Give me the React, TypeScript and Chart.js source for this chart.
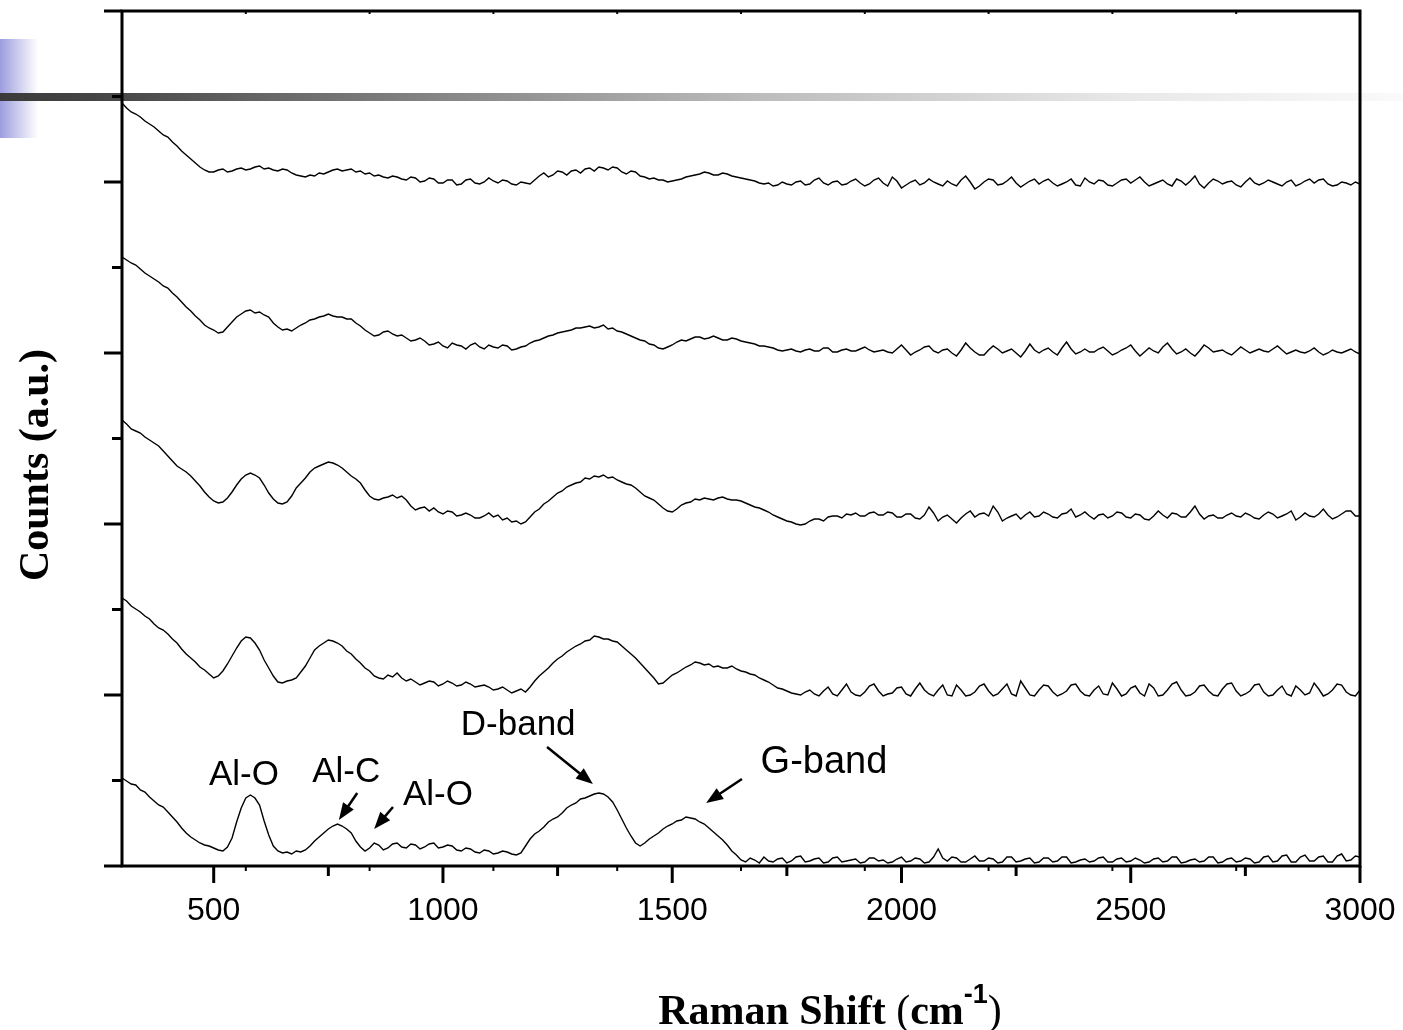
import { useEffect, useRef } from 'react';
import { Chart, registerables } from 'chart.js';

Chart.register(...registerables);

const W = 1403;
const H = 1030;

// Raman shift sampling (cm-1)
const ramanShift = [
  300, 310, 320, 330, 340, 350, 360, 370, 380, 390, 400, 410, 420, 430, 440, 450, 460, 470, 480, 490,
  500, 510, 520, 530, 540, 550, 560, 570, 580, 590, 600, 610, 620, 630, 640, 650, 660, 670, 680, 690,
  700, 710, 720, 730, 740, 750, 760, 770, 780, 790, 800, 810, 820, 830, 840, 850, 860, 870, 880, 890,
  900, 910, 920, 930, 940, 950, 960, 970, 980, 990, 1000, 1010, 1020, 1030, 1040, 1050, 1060, 1070, 1080, 1090,
  1100, 1110, 1120, 1130, 1140, 1150, 1160, 1170, 1180, 1190, 1200, 1210, 1220, 1230, 1240, 1250, 1260, 1270, 1280, 1290,
  1300, 1310, 1320, 1330, 1340, 1350, 1360, 1370, 1380, 1390, 1400, 1410, 1420, 1430, 1440, 1450, 1460, 1470, 1480, 1490,
  1500, 1510, 1520, 1530, 1540, 1550, 1560, 1570, 1580, 1590, 1600, 1610, 1620, 1630, 1640, 1650, 1660, 1670, 1680, 1690,
  1700, 1710, 1720, 1730, 1740, 1750, 1760, 1770, 1780, 1790, 1800, 1810, 1820, 1830, 1840, 1850, 1860, 1870, 1880, 1890,
  1900, 1910, 1920, 1930, 1940, 1950, 1960, 1970, 1980, 1990, 2000, 2010, 2020, 2030, 2040, 2050, 2060, 2070, 2080, 2090,
  2100, 2110, 2120, 2130, 2140, 2150, 2160, 2170, 2180, 2190, 2200, 2210, 2220, 2230, 2240, 2250, 2260, 2270, 2280, 2290,
  2300, 2310, 2320, 2330, 2340, 2350, 2360, 2370, 2380, 2390, 2400, 2410, 2420, 2430, 2440, 2450, 2460, 2470, 2480, 2490,
  2500, 2510, 2520, 2530, 2540, 2550, 2560, 2570, 2580, 2590, 2600, 2610, 2620, 2630, 2640, 2650, 2660, 2670, 2680, 2690,
  2700, 2710, 2720, 2730, 2740, 2750, 2760, 2770, 2780, 2790, 2800, 2810, 2820, 2830, 2840, 2850, 2860, 2870, 2880, 2890,
  2900, 2910, 2920, 2930, 2940, 2950, 2960, 2970, 2980, 2990, 3000,
];

// Counts (a.u., stacked with offsets) – bottom trace
const trace1 = [
  88, 85, 82, 81, 76, 74, 69, 65, 61, 59, 54, 49, 44, 38, 33, 29, 26, 23, 21, 20,
  18, 16, 15, 19, 28, 44, 58, 68, 71, 68, 61, 45, 31, 20, 15, 13, 14, 12, 15, 14,
  16, 20, 25, 29, 33, 37, 40, 42, 40, 37, 33, 25, 19, 15, 18, 23, 21, 16, 18, 22,
  23, 19, 18, 22, 21, 17, 19, 22, 23, 18, 19, 21, 20, 16, 15, 18, 17, 14, 13, 16,
  15, 12, 13, 15, 14, 12, 11, 13, 20, 27, 32, 35, 39, 44, 47, 49, 53, 58, 61, 63,
  67, 68, 70, 72, 73, 72, 69, 64, 56, 47, 38, 30, 23, 20, 23, 27, 30, 33, 37, 40,
  42, 45, 46, 49, 48, 47, 44, 42, 38, 34, 30, 26, 21, 15, 11, 6, 4, 8, 6, 3,
  9, 5, 4, 7, 8, 3, 5, 9, 10, 4, 5, 7, 8, 3, 4, 8, 9, 4, 5, 6,
  7, 3, 4, 8, 8, 5, 6, 3, 4, 7, 9, 4, 5, 8, 7, 3, 4, 9, 17, 8,
  5, 9, 8, 4, 4, 7, 10, 5, 5, 8, 7, 3, 4, 9, 9, 4, 5, 7, 8, 3,
  4, 8, 8, 4, 5, 9, 9, 3, 4, 6, 7, 4, 5, 8, 9, 4, 4, 7, 8, 4,
  5, 8, 6, 3, 4, 7, 8, 4, 5, 9, 9, 3, 4, 6, 7, 4, 5, 9, 9, 3,
  4, 7, 8, 4, 5, 8, 7, 3, 4, 9, 10, 4, 5, 10, 11, 4, 4, 9, 11, 5,
  5, 9, 10, 4, 4, 10, 12, 5, 6, 10, 9,
];

const trace2 = [
  268, 265, 260, 257, 254, 250, 247, 242, 238, 236, 232, 227, 223, 217, 212, 208, 204, 199, 196, 192,
  188, 190, 195, 202, 210, 218, 225, 229, 228, 223, 216, 206, 198, 190, 184, 183, 185, 186, 188, 194,
  200, 208, 216, 220, 223, 226, 225, 223, 220, 215, 212, 207, 203, 198, 195, 190, 188, 187, 191, 189,
  193, 188, 185, 187, 184, 181, 183, 185, 184, 180, 182, 185, 183, 180, 181, 184, 182, 179, 180, 181,
  179, 176, 177, 179, 176, 173, 175, 177, 174, 179, 185, 190, 194, 198, 203, 207, 210, 214, 217, 220,
  222, 225, 226, 230, 229, 227, 227, 225, 224, 220, 216, 212, 208, 203, 198, 193, 188, 182, 183, 187,
  191, 193, 196, 199, 201, 204, 203, 201, 202, 199, 200, 198, 198, 200, 197, 195, 194, 192, 191, 188,
  186, 184, 181, 178, 177, 175, 173, 172, 171, 174, 176, 172, 170, 175, 179, 172, 170, 176, 182, 174,
  171, 170, 174, 180, 182, 175, 170, 172, 173, 178, 179, 172, 170, 177, 183, 176, 172, 170, 176, 181,
  171, 170, 181, 176, 170, 171, 174, 180, 182, 175, 170, 172, 177, 182, 172, 170, 185, 178, 171, 170,
  176, 181, 180, 174, 170, 172, 175, 181, 182, 175, 171, 170, 176, 180, 172, 171, 183, 177, 170, 172,
  178, 180, 173, 170, 182, 178, 170, 171, 176, 182, 184, 176, 170, 171, 174, 180, 181, 175, 171, 170,
  177, 182, 183, 175, 170, 172, 175, 181, 182, 174, 170, 171, 176, 180, 172, 170, 180, 176, 171, 173,
  183, 177, 170, 172, 176, 182, 181, 174, 171, 170, 176,
];

const trace3 = [
  446, 442, 437, 435, 433, 429, 426, 423, 420, 415, 410, 405, 400, 397, 394, 390, 385, 380, 374, 369,
  365, 363, 364, 368, 374, 381, 387, 391, 393, 391, 388, 381, 373, 367, 363, 362, 364, 370, 378, 383,
  388, 394, 398, 400, 402, 404, 403, 401, 398, 394, 390, 387, 383, 376, 370, 367, 366, 368, 369, 371,
  368, 370, 366, 360, 356, 358, 359, 355, 358, 354, 352, 355, 354, 350, 351, 353, 351, 348, 348, 350,
  353, 349, 351, 346, 348, 344, 345, 342, 344, 349, 354, 357, 362, 365, 369, 373, 375, 379, 381, 383,
  384, 388, 387, 390, 389, 391, 388, 389, 386, 384, 382, 381, 378, 374, 370, 368, 366, 362, 358, 355,
  354, 357, 361, 363, 364, 367, 366, 368, 367, 366, 368, 369, 367, 366, 366, 365, 363, 361, 359, 358,
  356, 354, 351, 349, 347, 345, 344, 342, 341, 342, 345, 347, 347, 345, 349, 350, 350, 348, 352, 351,
  353, 350, 350, 353, 354, 351, 351, 354, 353, 349, 349, 352, 352, 348, 347, 351, 359, 353, 345, 349,
  351, 347, 343, 348, 352, 355, 349, 352, 353, 350, 360, 354, 345, 348, 350, 352, 347, 351, 354, 349,
  350, 354, 352, 349, 348, 352, 353, 357, 349, 351, 354, 350, 347, 351, 352, 348, 350, 354, 353, 349,
  348, 352, 351, 347, 346, 350, 355, 351, 348, 353, 352, 349, 349, 354, 360, 352, 347, 350, 351, 348,
  348, 351, 353, 350, 349, 353, 351, 348, 347, 351, 354, 352, 348, 350, 352, 355, 346, 349, 353, 350,
  349, 352, 357, 351, 347, 349, 352, 355, 355, 350, 350,
];

const trace4 = [
  609, 606, 603, 601, 597, 593, 590, 587, 584, 580, 578, 573, 569, 564, 559, 555, 550, 546, 541, 538,
  536, 533, 534, 539, 544, 549, 552, 555, 556, 553, 554, 551, 549, 543, 539, 536, 537, 535, 538, 541,
  543, 546, 547, 549, 550, 552, 550, 549, 549, 547, 547, 543, 540, 536, 533, 530, 531, 534, 535, 532,
  530, 531, 528, 525, 526, 528, 525, 521, 522, 524, 520, 518, 523, 521, 520, 517, 521, 523, 519, 517,
  521, 519, 518, 521, 520, 516, 517, 519, 520, 523, 525, 526, 528, 530, 531, 533, 534, 535, 536, 538,
  538, 539, 540, 538, 539, 541, 537, 538, 535, 534, 532, 530, 528, 526, 525, 522, 521, 518, 517, 519,
  521, 524, 526, 525, 527, 529, 529, 527, 528, 530, 528, 526, 526, 528, 527, 525, 524, 523, 522, 520,
  520, 519, 518, 516, 515, 516, 517, 515, 514, 516, 517, 515, 515, 518, 518, 514, 514, 516, 517, 515,
  515, 517, 519, 516, 514, 515, 516, 514, 513, 517, 521, 516, 511, 514, 516, 519, 520, 515, 513, 516,
  517, 513, 510, 516, 523, 518, 514, 511, 511, 516, 520, 517, 513, 515, 517, 513, 509, 515, 522, 516,
  513, 516, 518, 514, 511, 518, 524, 517, 512, 514, 517, 514, 514, 517, 519, 515, 511, 513, 516, 518,
  521, 515, 510, 514, 518, 515, 513, 519, 523, 517, 512, 514, 517, 513, 510, 515, 521, 518, 514, 515,
  516, 513, 511, 515, 519, 516, 513, 515, 517, 515, 514, 517, 520, 516, 512, 514, 516, 514, 513, 515,
  518, 514, 511, 513, 516, 514, 513, 515, 517, 514, 512,
];

const trace5 = [
  763, 758, 754, 752, 749, 745, 742, 739, 735, 731, 729, 724, 720, 715, 711, 707, 703, 699, 696, 694,
  694, 696, 697, 694, 695, 697, 698, 696, 697, 699, 700, 697, 698, 696, 695, 697, 696, 693, 691, 690,
  689, 691, 690, 693, 692, 694, 696, 697, 695, 696, 697, 694, 695, 692, 693, 690, 691, 689, 688, 690,
  689, 687, 686, 689, 688, 684, 685, 688, 687, 683, 683, 686, 686, 681, 682, 686, 687, 683, 682, 684,
  688, 685, 683, 686, 685, 682, 681, 684, 683, 682, 686, 690, 693, 689, 691, 695, 694, 691, 695, 696,
  693, 697, 698, 695, 699, 698, 696, 699, 698, 694, 692, 695, 694, 690, 689, 687, 688, 686, 686, 684,
  685, 686, 687, 689, 690, 691, 692, 694, 693, 691, 691, 693, 692, 690, 689, 688, 687, 686, 685, 683,
  682, 683, 680, 681, 684, 682, 681, 684, 685, 681, 682, 686, 688, 683, 681, 684, 685, 681, 682, 685,
  687, 683, 680, 682, 686, 688, 683, 680, 689, 685, 678, 681, 684, 686, 681, 683, 687, 684, 682, 680,
  685, 682, 680, 686, 690, 684, 677, 680, 684, 687, 686, 681, 682, 685, 689, 683, 679, 682, 685, 687,
  682, 685, 687, 683, 680, 682, 684, 687, 681, 680, 688, 684, 682, 686, 685, 681, 680, 683, 686, 687,
  683, 686, 689, 684, 680, 682, 684, 686, 682, 680, 687, 685, 681, 685, 690, 682, 678, 683, 687, 685,
  682, 684, 685, 681, 679, 684, 688, 683, 681, 683, 686, 684, 682, 680, 684, 686, 680, 682, 685, 687,
  683, 686, 687, 682, 680, 681, 684, 683, 681, 684, 682,
];

const traces = [trace1, trace2, trace3, trace4, trace5];

const X_MIN = 300;
const X_MAX = 3000;
const Y_MIN = 0;
const Y_MAX = 855;

const xTickLabels = [500, 1000, 1500, 2000, 2500, 3000];
const xMinorTicks = [750, 1250, 1750, 2250, 2750];
const xAuxTicks = [570, 840, 1110, 1380, 1650, 1920, 2190, 2460, 2730];
const yMajorTicks = [0, 171, 342, 513, 684, 855];
const yMinorTicks = [85.5, 256.5, 427.5, 598.5, 769.5];

const annotationTexts = ['Al-O', 'Al-C', 'Al-O', 'D-band', 'G-band'];
const annotationX = [566, 789, 989, 1164, 1831];
const annotationY = [81, 84, 61, 131, 93];
const annotationSize = [35, 35, 35, 35, 38];

// arrows: tail (x1,y1) -> tip (x2,y2), in data units
const arrowX1 = [813, 891, 1227, 1652];
const arrowY1 = [73, 59, 119, 87];
const arrowX2 = [773, 850, 1327, 1574];
const arrowY2 = [46, 37, 82, 63];

const yTitle = 'Counts (a.u.)';
const xTitleMain = 'Raman Shift ';
const xTitleUnit = 'cm';
const xTitleSup = '-1';

function drawArrow(ctx: CanvasRenderingContext2D, x1: number, y1: number, x2: number, y2: number) {
  const ang = Math.atan2(y2 - y1, x2 - x1);
  const hl = 17;
  const hw = 6.5;
  const bx = x2 - hl * Math.cos(ang);
  const by = y2 - hl * Math.sin(ang);
  ctx.lineWidth = 2.5;
  ctx.beginPath();
  ctx.moveTo(x1, y1);
  ctx.lineTo(bx + Math.cos(ang), by + Math.sin(ang));
  ctx.stroke();
  ctx.beginPath();
  ctx.moveTo(x2, y2);
  ctx.lineTo(bx + hw * Math.sin(ang), by - hw * Math.cos(ang));
  ctx.lineTo(bx - hw * Math.sin(ang), by + hw * Math.cos(ang));
  ctx.closePath();
  ctx.fill();
}

const decoPlugin = {
  id: 'deco',
  beforeDraw(chart: any) {
    const ctx: CanvasRenderingContext2D = chart.ctx;
    ctx.save();
    ctx.fillStyle = '#ffffff';
    ctx.fillRect(0, 0, W, H);
    const gb = ctx.createLinearGradient(0, 0, 38, 0);
    gb.addColorStop(0, '#9c9cdf');
    gb.addColorStop(1, '#ffffff');
    ctx.fillStyle = gb;
    ctx.fillRect(0, 39, 38, 99);
    const gg = ctx.createLinearGradient(0, 0, W, 0);
    gg.addColorStop(0, '#3a3a3a');
    gg.addColorStop(0.085, '#484848');
    gg.addColorStop(0.21, '#6c6c6c');
    gg.addColorStop(0.54, '#bcbcbc');
    gg.addColorStop(0.8, '#e8e8e8');
    gg.addColorStop(1, '#fafafa');
    ctx.fillStyle = gg;
    ctx.fillRect(0, 93, W, 8);
    ctx.restore();
  },
  afterDraw(chart: any) {
    const ctx: CanvasRenderingContext2D = chart.ctx;
    const xs = chart.scales.x;
    const ys = chart.scales.y;
    const { left, right, top, bottom } = chart.chartArea;
    ctx.save();
    ctx.strokeStyle = '#000';
    ctx.fillStyle = '#000';
    ctx.lineCap = 'butt';
    ctx.lineJoin = 'miter';

    ctx.lineWidth = 3;
    ctx.strokeRect(left, top, right - left, bottom - top);

    yMajorTicks.forEach((v) => {
      const y = ys.getPixelForValue(v);
      ctx.beginPath();
      ctx.moveTo(left - 18, y);
      ctx.lineTo(left, y);
      ctx.stroke();
    });
    yMinorTicks.forEach((v) => {
      const y = ys.getPixelForValue(v);
      ctx.beginPath();
      ctx.moveTo(left - 10, y);
      ctx.lineTo(left, y);
      ctx.stroke();
    });
    xTickLabels.forEach((v) => {
      const x = xs.getPixelForValue(v);
      ctx.beginPath();
      ctx.moveTo(x, bottom);
      ctx.lineTo(x, bottom + 17);
      ctx.stroke();
    });
    xMinorTicks.forEach((v) => {
      const x = xs.getPixelForValue(v);
      ctx.beginPath();
      ctx.moveTo(x, bottom);
      ctx.lineTo(x, bottom + 10);
      ctx.stroke();
    });
    ctx.lineWidth = 2;
    xAuxTicks.forEach((v) => {
      const x = xs.getPixelForValue(v);
      ctx.beginPath();
      ctx.moveTo(x, bottom);
      ctx.lineTo(x, bottom + 5);
      ctx.stroke();
      ctx.beginPath();
      ctx.moveTo(x, top);
      ctx.lineTo(x, top + 3);
      ctx.stroke();
    });

    ctx.textAlign = 'center';
    ctx.textBaseline = 'alphabetic';
    annotationTexts.forEach((t, i) => {
      ctx.font = `${annotationSize[i]}px "Liberation Sans", Arial, sans-serif`;
      ctx.fillText(t, xs.getPixelForValue(annotationX[i]), ys.getPixelForValue(annotationY[i]));
    });
    arrowX1.forEach((_, i) => {
      drawArrow(
        ctx,
        xs.getPixelForValue(arrowX1[i]),
        ys.getPixelForValue(arrowY1[i]),
        xs.getPixelForValue(arrowX2[i]),
        ys.getPixelForValue(arrowY2[i])
      );
    });

    ctx.save();
    ctx.translate(48, 465);
    ctx.rotate(-Math.PI / 2);
    ctx.font = 'bold 42px "Liberation Serif", "Times New Roman", serif';
    ctx.textAlign = 'center';
    ctx.fillText(yTitle, 0, 0);
    ctx.restore();

    const fMain = 'bold 42px "Liberation Serif", "Times New Roman", serif';
    const fParen = '42px "Liberation Serif", "Times New Roman", serif';
    const fSup = 'bold 27px "Liberation Sans", Arial, sans-serif';
    const parts = [
      { t: xTitleMain, f: fMain, dy: 0 },
      { t: '(', f: fParen, dy: 0 },
      { t: xTitleUnit, f: fMain, dy: 0 },
      { t: xTitleSup, f: fSup, dy: -21 },
      { t: ')', f: fParen, dy: 0 },
    ];
    let total = 0;
    const widths = parts.map((p) => {
      ctx.font = p.f;
      const w = ctx.measureText(p.t).width;
      total += w;
      return w;
    });
    let cx = 830 - total / 2;
    const base = 1024;
    ctx.textAlign = 'left';
    parts.forEach((p, i) => {
      ctx.font = p.f;
      ctx.fillText(p.t, cx, base + p.dy);
      cx += widths[i];
    });

    ctx.restore();
  },
};

export default function App() {
  const ref = useRef<HTMLCanvasElement>(null);
  useEffect(() => {
    document.body.style.margin = '0';
    const canvas = ref.current;
    if (!canvas) return;
    const chart = new Chart(canvas, {
      type: 'line',
      data: {
        datasets: traces.map((t) => ({
          data: ramanShift.map((x, i) => ({ x, y: t[i] })),
          borderColor: '#000000',
          borderWidth: 1.4,
          pointRadius: 0,
          fill: false,
          tension: 0,
        })),
      },
      options: {
        responsive: false,
        animation: false,
        devicePixelRatio: 1,
        layout: { padding: { left: 0, right: 43, top: 11, bottom: 0 } },
        plugins: { legend: { display: false }, tooltip: { enabled: false } },
        scales: {
          x: {
            type: 'linear',
            min: X_MIN,
            max: X_MAX,
            grid: { display: false, drawTicks: false },
            border: { display: false },
            afterBuildTicks: (scale: any) => {
              scale.ticks = xTickLabels.map((v) => ({ value: v }));
            },
            afterFit: (scale: any) => {
              scale.height = 164;
              scale.paddingLeft = 0;
              scale.paddingRight = 0;
            },
            ticks: {
              color: '#000',
              padding: 26,
              maxRotation: 0,
              autoSkip: false,
              font: { family: '"Liberation Sans", Arial, sans-serif', size: 32 },
              callback: (v: any) => String(v),
            },
          },
          y: {
            type: 'linear',
            min: Y_MIN,
            max: Y_MAX,
            grid: { display: false, drawTicks: false },
            border: { display: false },
            ticks: { display: false },
            afterFit: (scale: any) => {
              scale.width = 122;
            },
          },
        },
      },
      plugins: [decoPlugin],
    } as any);
    return () => chart.destroy();
  }, []);
  return (
    <div style={{ position: 'absolute', left: 0, top: 0, width: W, height: H }}>
      <canvas ref={ref} width={W} height={H} style={{ display: 'block', width: W, height: H }} />
    </div>
  );
}
